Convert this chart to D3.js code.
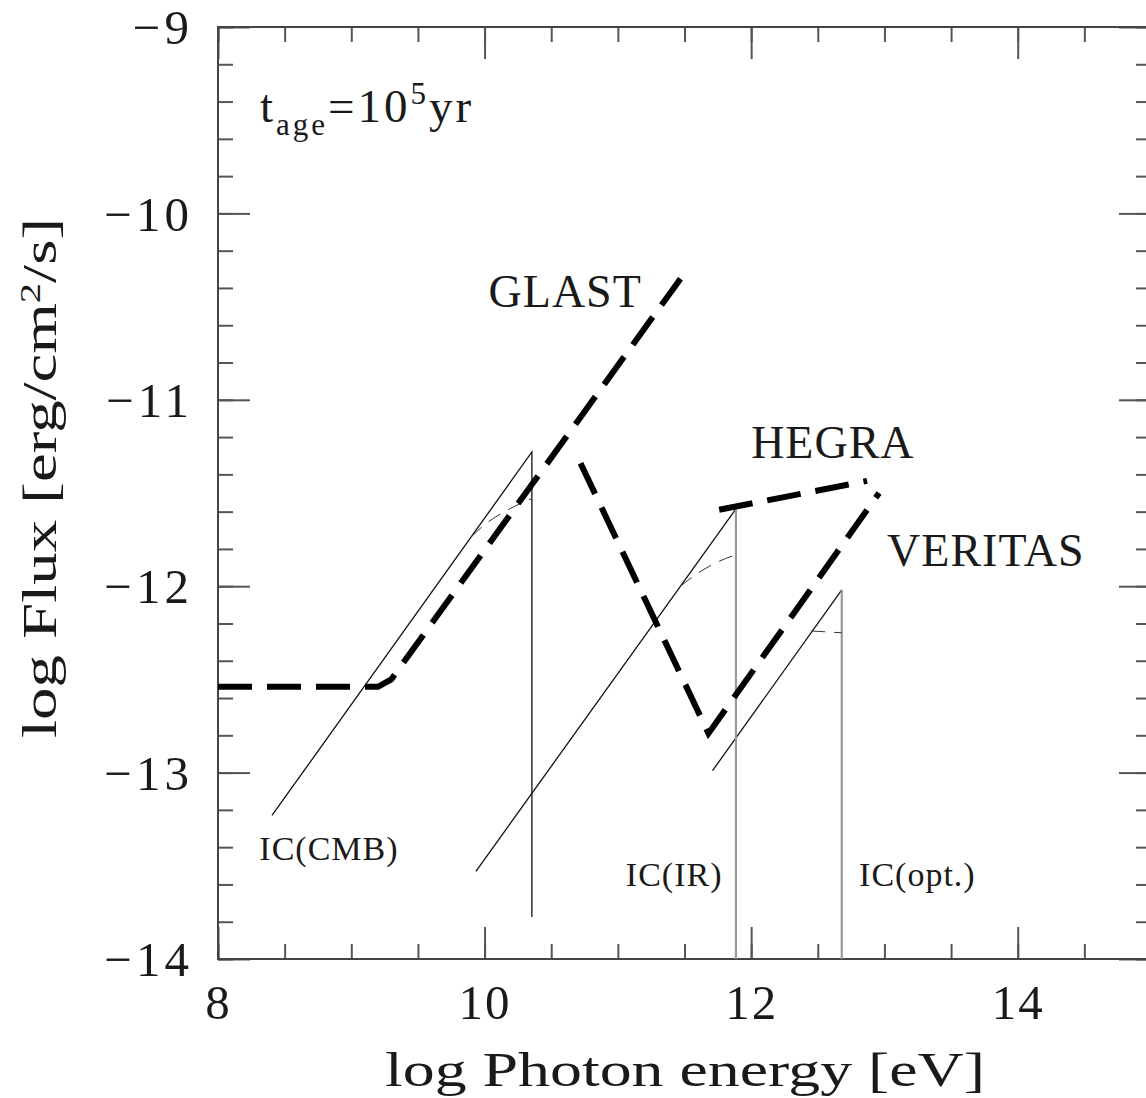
<!DOCTYPE html>
<html>
<head>
<meta charset="utf-8">
<script src="https://cdn.jsdelivr.net/npm/d3@7"></script>
<style>
  body { margin: 0; background: #fff; }
  text { font-family: "Liberation Serif", serif; fill: #1a1a1a; }
</style>
</head>
<body>
<div id="viz"></div>
<script>
// sensitivity curves (thick dashed)
const glast = [[8, -12.54], [9.2, -12.54], [9.3, -12.5], [11.47, -10.35]];
const veritas = [[10.72, -11.34], [11.68, -12.79], [12.96, -11.5]];
const hegra = [[11.76, -11.59], [12.87, -11.435]];

// inverse Compton spectra (thin)
const icCmb = [[8.405, -13.23], [10.355, -11.28], [10.355, -13.775]];
const icIr = [[9.935, -13.53], [11.886, -11.585]];
const icIrEdge = [[11.886, -11.585], [11.886, -14]];
const icOpt = [[11.71, -12.99], [12.68, -12.02]];
const icOptEdge = [[12.68, -12.02], [12.68, -14]];

// thin dashed cut-off variants
const cmbCut = [[9.9, -11.735], [10.0, -11.67], [10.15, -11.6], [10.355, -11.53]];
const irCut = [[11.47, -12.0], [11.6, -11.93], [11.75, -11.87], [11.886, -11.83]];
const optCut = [[12.45, -12.24], [12.68, -12.25]];

const xMajor = [8, 10, 12, 14];
const yMajor = [-9, -10, -11, -12, -13, -14];

const labels = [
    {text: 'GLAST', x: 10.03, y: -10.5, size: 46},
    {text: 'HEGRA', x: 12.0, y: -11.31, size: 46},
    {text: 'VERITAS', x: 13.02, y: -11.89, size: 46},
    {text: 'IC(CMB)', x: 8.31, y: -13.47, size: 34},
    {text: 'IC(IR)', x: 11.06, y: -13.61, size: 34},
    {text: 'IC(opt.)', x: 12.81, y: -13.61, size: 34}
];

const width = 1146, height = 1098;

let x = d3.scaleLinear().domain([8, 15]).range([218, 1151]);
let y = d3.scaleLinear().domain([-9, -14]).range([27, 959]);

let svg = d3.select('#viz')
    .append('svg')
    .attr('width', width)
    .attr('height', height);

let line = d3.line().x(d => x(d[0])).y(d => y(d[1]));

// axes: minor and major ticks on all four sides
const xMinor = d3.range(8, 15.01, 0.5);
const yMinor = d3.range(-14, -8.99, 0.2).map(v => +v.toFixed(1));

function styleAxis(g) {
    g.select('.domain').remove();
    g.selectAll('line').attr('stroke', '#555').attr('stroke-width', 2);
}

svg.append('g').attr('transform', `translate(0,${y(-14)})`)
    .call(d3.axisBottom(x).tickValues(xMinor).tickSize(-15).tickFormat(''))
    .call(styleAxis);
svg.append('g').attr('transform', `translate(0,${y(-14)})`)
    .call(d3.axisBottom(x).tickValues(xMajor).tickSize(-32).tickPadding(60).tickFormat(d3.format('d')))
    .call(styleAxis)
    .call(g => g.selectAll('text').attr('font-size', 49).attr('fill', '#1a1a1a')
        .attr('letter-spacing', 2)
        .attr('font-family', '"Liberation Serif", serif').attr('dy', 0));
svg.append('g').attr('transform', `translate(0,${y(-9)})`)
    .call(d3.axisTop(x).tickValues(xMinor).tickSize(-15).tickFormat(''))
    .call(styleAxis);
svg.append('g').attr('transform', `translate(0,${y(-9)})`)
    .call(d3.axisTop(x).tickValues(xMajor).tickSize(-32).tickFormat(''))
    .call(styleAxis);

svg.append('g').attr('transform', `translate(${x(8)},0)`)
    .call(d3.axisLeft(y).tickValues(yMinor).tickSize(-15).tickFormat(''))
    .call(styleAxis);
svg.append('g').attr('transform', `translate(${x(8)},0)`)
    .call(d3.axisLeft(y).tickValues(yMajor).tickSize(-32).tickPadding(25)
        .tickFormat(d => '\u2212' + Math.abs(d)))
    .call(styleAxis)
    .call(g => g.selectAll('text').attr('font-size', 49).attr('fill', '#1a1a1a')
        .attr('letter-spacing', 4)
        .attr('font-family', '"Liberation Serif", serif').attr('dy', '0.34em'));
svg.append('g').attr('transform', `translate(${x(15)},0)`)
    .call(d3.axisRight(y).tickValues(yMinor).tickSize(-15).tickFormat(''))
    .call(styleAxis);
svg.append('g').attr('transform', `translate(${x(15)},0)`)
    .call(d3.axisRight(y).tickValues(yMajor).tickSize(-32).tickFormat(''))
    .call(styleAxis);

// frame
svg.append('rect')
    .attr('x', x(8)).attr('y', y(-9))
    .attr('width', x(15) - x(8)).attr('height', y(-14) - y(-9))
    .attr('fill', 'none').attr('stroke', '#444').attr('stroke-width', 2);

// thin IC lines
[icCmb, icIr, icOpt].forEach(d => {
    svg.append('path').datum(d).attr('d', line)
        .attr('fill', 'none').attr('stroke', '#111').attr('stroke-width', 1.3);
});
[icIrEdge, icOptEdge].forEach(d => {
    svg.append('path').datum(d).attr('d', line)
        .attr('fill', 'none').attr('stroke', '#999').attr('stroke-width', 2.2);
});
[cmbCut, irCut, optCut].forEach(d => {
    svg.append('path').datum(d).attr('d', d3.line().x(p => x(p[0])).y(p => y(p[1])).curve(d3.curveMonotoneX))
        .attr('fill', 'none').attr('stroke', '#333').attr('stroke-width', 1)
        .attr('stroke-dasharray', '14,9');
});

// thick dashed sensitivity curves
[glast, veritas, hegra].forEach(d => {
    svg.append('path').datum(d).attr('d', line)
        .attr('fill', 'none').attr('stroke', '#000').attr('stroke-width', 6)
        .attr('stroke-dasharray', '34,15').attr('stroke-linejoin', 'miter');
});

// labels
svg.selectAll('.lab').data(labels).enter()
    .append('text')
    .attr('class', 'lab')
    .attr('x', d => x(d.x))
    .attr('y', d => y(d.y))
    .attr('font-size', d => d.size)
    .attr('letter-spacing', 1)
    .text(d => d.text);

let tage = svg.append('text').attr('x', x(8.315)).attr('y', y(-9.51))
    .attr('font-size', 47).attr('letter-spacing', 3);
tage.append('tspan').text('t');
tage.append('tspan').attr('dy', 13).attr('font-size', 31).text('age');
tage.append('tspan').attr('dy', -13).text('=10');
tage.append('tspan').attr('dy', -18).attr('font-size', 31).text('5');
tage.append('tspan').attr('dy', 18).text('yr');

// axis titles
svg.append('text')
    .attr('x', 685).attr('y', 1086)
    .attr('text-anchor', 'middle')
    .attr('font-size', 48)
    .attr('textLength', 600).attr('lengthAdjust', 'spacingAndGlyphs')
    .text('log Photon energy [eV]');

let yt = svg.append('text')
    .attr('transform', 'translate(56,478) rotate(-90)')
    .attr('text-anchor', 'middle')
    .attr('font-size', 48)
    .attr('textLength', 520).attr('lengthAdjust', 'spacingAndGlyphs');
yt.append('tspan').text('log Flux [erg/cm');
yt.append('tspan').attr('dy', -16).attr('font-size', 30).text('2');
yt.append('tspan').attr('dy', 16).text('/s]');
</script>
</body>
</html>
